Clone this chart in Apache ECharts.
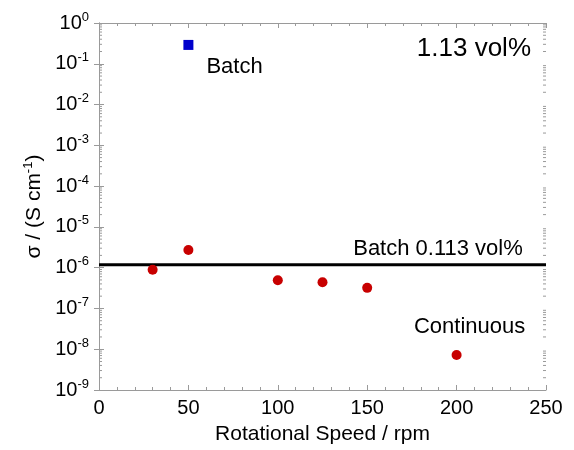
<!DOCTYPE html>
<html>
<head>
<meta charset="utf-8">
<script src="https://cdn.jsdelivr.net/npm/echarts@6/dist/echarts.min.js"></script>
<style>html,body{margin:0;padding:0;background:#fff}#c{width:574px;height:450px}</style>
</head>
<body>
<div id="c"></div>
<script>
const speeds = [30, 50, 100, 125, 150, 200];
const conductivity = [8.9e-7, 2.7e-6, 4.9e-7, 4.4e-7, 3.2e-7, 7.2e-9];
const batchSpeed = [50];
const batchConductivity = [0.29];
const batchRefValue = 1.18e-6;
const speedRange = [0, 250];
const xTicks = [0, 50, 100, 150, 200, 250];
const yExponents = [0, -1, -2, -3, -4, -5, -6, -7, -8, -9];
const minorMultipliers = [2, 3, 4, 5, 6, 7, 8, 9];

const FONT = 'Liberation Sans, Arial, sans-serif';
const frame = '#9a9a9a';

const chart = echarts.init(document.getElementById('c'), null, {renderer: 'canvas'});

const contData = speeds.map((s, i) => [s, conductivity[i]]);
const batchData = batchSpeed.map((s, i) => [s, batchConductivity[i]]);
const refLine = speedRange.map(s => [s, batchRefValue]);
const minorTickValues = [];
yExponents.slice(1).forEach(e => minorMultipliers.forEach(m => minorTickValues.push([0, m * Math.pow(10, e)])));

function supLabel(v) {
  const e = Math.round(Math.log10(v));
  return '{b|10}{s|' + e + '}';
}

const axisCommonX = {
  type: 'value', min: 0, max: 250, interval: 50,
  axisLine: {show: true, lineStyle: {color: frame, width: 1}},
  axisTick: {show: true, inside: true, length: 5, lineStyle: {color: frame}},
  minorTick: {show: true, splitNumber: 5, length: 3, lineStyle: {color: frame}},
  splitLine: {show: false}
};
const axisCommonY = {
  type: 'log', logBase: 10, min: 1e-9, max: 1, interval: 1,
  axisLine: {show: true, lineStyle: {color: frame, width: 1}},
  axisTick: {show: true, inside: true, length: 5, lineStyle: {color: frame}},
  minorTick: {show: false},
  splitLine: {show: false}
};

chart.setOption({
  animation: false,
  backgroundColor: '#fff',
  textStyle: {fontFamily: FONT},
  grid: {left: 99, right: 28, top: 23, bottom: 57, containLabel: false},
  title: {
    text: '1.13 vol%', right: 38, top: 31,
    textStyle: {fontFamily: FONT, fontSize: 26, fontWeight: 'normal', color: '#000'}
  },
  xAxis: [
    Object.assign({}, axisCommonX, {
      position: 'bottom',
      name: 'Rotational Speed / rpm', nameLocation: 'middle', nameGap: 34,
      nameTextStyle: {fontFamily: FONT, fontSize: 21, color: '#000'},
      axisLabel: {show: true, fontFamily: FONT, fontSize: 20, color: '#000', margin: 8,
        formatter: v => xTicks.includes(v) ? String(v) : ''}
    }),
    Object.assign({}, axisCommonX, {position: 'top', axisLabel: {show: false}})
  ],
  yAxis: [
    Object.assign({}, axisCommonY, {
      position: 'left',
      name: '{n|σ / (S cm}{s|-1}{n|)}', nameLocation: 'middle', nameGap: 53, nameRotate: 90,
      nameTextStyle: {
        rich: {
          n: {fontFamily: FONT, fontSize: 21, color: '#000'},
          s: {fontFamily: FONT, fontSize: 13, color: '#000', verticalAlign: 'top', padding: [0, 0, 10, 0]}
        }
      },
      axisLabel: {
        show: true, margin: 10,
        formatter: v => yExponents.includes(Math.round(Math.log10(v))) ? supLabel(v) : '',
        rich: {
          b: {fontFamily: FONT, fontSize: 20, color: '#000'},
          s: {fontFamily: FONT, fontSize: 13, color: '#000', padding: [0, 0, 12, 0]}
        }
      }
    }),
    Object.assign({}, axisCommonY, {position: 'right', axisLabel: {show: false}})
  ],
  series: [
    {
      name: 'minorTicks', type: 'custom', xAxisIndex: 0, yAxisIndex: 0,
      silent: true, clip: false, z: 1,
      encode: {x: 0, y: 1},
      data: minorTickValues,
      renderItem: function (params, api) {
        const cs = params.coordSys;
        const y = api.coord([0, api.value(1)])[1];
        const st = {stroke: frame, lineWidth: 1};
        return {
          type: 'group',
          children: [
            {type: 'line', shape: {x1: cs.x, y1: y, x2: cs.x + 3, y2: y}, style: st},
            {type: 'line', shape: {x1: cs.x + cs.width - 3, y1: y, x2: cs.x + cs.width, y2: y}, style: st}
          ]
        };
      }
    },
    {
      name: 'Batch 0.113 vol%', type: 'line', xAxisIndex: 0, yAxisIndex: 0,
      symbol: 'circle', symbolSize: 0, showSymbol: true, silent: true, z: 2,
      itemStyle: {color: '#000'},
      lineStyle: {color: '#000', width: 3},
      data: refLine.map((d, i) => i === refLine.length - 1 ? {
        value: d,
        label: {show: true, formatter: 'Batch 0.113 vol%', position: 'top', distance: 5, offset: [-108, 0],
          fontFamily: FONT, fontSize: 22, color: '#000'}
      } : d)
    },
    {
      name: 'Continuous', type: 'scatter', xAxisIndex: 0, yAxisIndex: 0,
      symbol: 'circle', symbolSize: 10,
      itemStyle: {color: '#c80000', opacity: 1},
      data: contData.map((d, i) => i === contData.length - 1 ? {
        value: d,
        label: {show: true, formatter: 'Continuous', position: 'top', distance: 12, offset: [13, 0],
          fontFamily: FONT, fontSize: 22, color: '#000'}
      } : d),
      z: 3
    },
    {
      name: 'Batch', type: 'scatter', xAxisIndex: 0, yAxisIndex: 0,
      symbol: 'rect', symbolSize: 10,
      itemStyle: {color: '#0000cc', opacity: 1},
      label: {show: true, formatter: 'Batch', position: 'right', distance: 13, offset: [0, 22],
        fontFamily: FONT, fontSize: 22, color: '#000'},
      data: batchData,
      z: 3
    }
  ]
});
</script>
</body>
</html>
